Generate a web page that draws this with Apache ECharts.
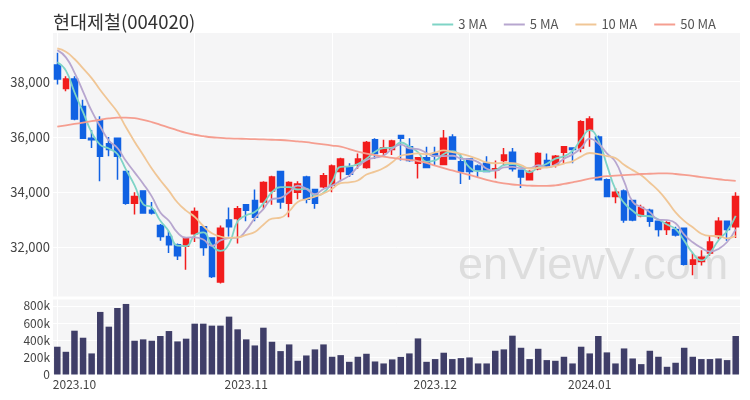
<!DOCTYPE html>
<html><head><meta charset="utf-8">
<script src="https://cdn.jsdelivr.net/npm/echarts@6/dist/echarts.min.js"></script>
<style>html,body{margin:0;padding:0;background:#fff}#c{width:750px;height:400px}</style>
</head><body><div id="c"></div>
<script>
const dates = ['2023-09-26','2023-09-27',
 '2023-10-02','2023-10-04','2023-10-05','2023-10-06','2023-10-10','2023-10-11','2023-10-12','2023-10-13','2023-10-16','2023-10-17','2023-10-18','2023-10-19','2023-10-20','2023-10-23','2023-10-24','2023-10-25','2023-10-26','2023-10-27','2023-10-30','2023-10-31',
 '2023-11-01','2023-11-02','2023-11-03','2023-11-06','2023-11-07','2023-11-08','2023-11-09','2023-11-10','2023-11-13','2023-11-14','2023-11-15','2023-11-16','2023-11-17','2023-11-20','2023-11-21','2023-11-22','2023-11-23','2023-11-24','2023-11-27','2023-11-28','2023-11-29','2023-11-30',
 '2023-12-01','2023-12-04','2023-12-05','2023-12-06','2023-12-07','2023-12-08','2023-12-11','2023-12-12','2023-12-13','2023-12-14','2023-12-15','2023-12-18','2023-12-19','2023-12-20','2023-12-21','2023-12-22','2023-12-26','2023-12-27',
 '2024-01-02','2024-01-03','2024-01-04','2024-01-05','2024-01-08','2024-01-09','2024-01-10','2024-01-11','2024-01-12','2024-01-15','2024-01-16','2024-01-17','2024-01-18','2024-01-19','2024-01-22','2024-01-23','2024-01-24','2024-01-25'];

const opens = [38600,37750,38100,37100,35950,36600,35750,35950,34750,33600,
 34050,33350,32800,32400,32100,32050,32500,32750,32350,30750,
 33000,33050,33550,33700,33650,34050,34750,33600,34000,34550,
 34100,34200,34250,34750,34900,35000,34900,35900,35450,35550,
 36050,35650,35050,35250,35400,35000,36000,35100,35200,34950,
 35050,34800,35150,35450,34800,34450,34850,35150,35000,35450,
 35600,35600,36250,36000,34450,33850,34050,33700,33150,33350,
 32950,32650,32650,32700,31400,31500,31800,32400,32950,32750];
const closes = [38100,38100,36650,35950,35900,35300,35550,35300,33600,33850,
 33250,33250,32400,32100,31700,32350,33300,32000,30950,32700,
 32750,33400,33350,33100,34350,34550,33650,34350,34300,33750,
 33600,34600,34950,35200,34650,35200,35800,35400,35600,35850,
 35950,35150,35250,34900,35300,35950,35200,34750,34750,34800,
 34750,34850,35350,34850,34550,34750,35400,34950,35300,35650,
 35550,36550,36650,34450,33850,34000,33000,33000,33450,32950,
 32650,32900,32450,31400,31550,31650,32200,32950,32650,33850];
const lows = [37900,37650,36600,35950,35600,34400,35300,34450,33550,33200,
 33250,33200,32250,31800,31550,31200,32200,31700,30900,30700,
 32400,32150,32950,32950,33400,33550,33400,33100,33750,33600,
 33400,34150,34000,34450,34550,34850,34850,35200,35350,35350,
 35150,35100,34500,34900,34950,35000,35200,34300,34450,34550,
 34750,34500,34950,34750,34150,34450,34800,34900,34900,35050,
 35050,35450,35650,34450,33850,33600,32900,32950,33100,32750,
 32400,32450,32400,31350,31000,31350,31700,32300,32250,32350];
const highs = [39050,38200,38200,37350,36250,36750,36000,35950,34750,34000,
 34050,33650,32850,32600,32150,32350,33450,32750,32350,32800,
 33450,33500,33550,34100,34400,34600,34750,34400,34400,34600,
 34100,34700,35000,35250,35050,35400,35850,35950,35900,35900,
 36050,35950,35250,35650,35650,36250,36100,35400,35200,35000,
 35300,35150,35600,35600,34800,34800,35450,35400,35350,35650,
 35600,36600,36750,36050,34500,34150,34100,33700,33550,33400,
 32950,32950,32750,32700,31800,31900,32450,33100,32950,34000];
const volumes = [324,265,511,429,246,730,558,776,823,394,
 410,394,449,507,386,418,593,593,570,570,
 675,527,410,339,546,382,273,351,160,222,
 293,351,207,226,148,207,242,152,129,176,
 205,246,421,148,180,254,180,191,199,129,
 129,277,293,453,312,180,300,168,160,207,
 129,324,246,449,258,129,304,187,121,277,
 207,90,137,312,207,180,180,187,168,449].map(v => v * 1000);

// moving-average values before enough in-window closes exist
const ma3Head = [38700, 38400];
const ma5Head = [39140, 38880, 38330, 37640];
const ma10Head = [39200, 39080, 38820, 38480, 38130, 37700, 37300, 36900, 36350];
const ma50 = [36370,36420,36470,36520,36570,36620,36670,36700,36700,36680,
 36620,36540,36440,36340,36240,36150,36080,36030,35990,35970,
 35950,35940,35930,35920,35910,35900,35890,35870,35840,35810,
 35770,35730,35690,35650,35560,35470,35400,35340,35290,35240,
 35200,35170,35130,35060,34960,34870,34790,34710,34630,34540,
 34450,34380,34320,34280,34260,34240,34230,34230,34250,34300,
 34360,34420,34490,34540,34580,34600,34620,34640,34660,34670,
 34680,34680,34660,34630,34590,34550,34510,34470,34440,34410];

const priceTicks = [32000, 34000, 36000, 38000];
const volumeTicks = [0, 200000, 400000, 600000, 800000];
const gridEvery = 16;

function movingAverage(n, head) {
  return closes.map((c, i) => {
    if (i < head.length) return head[i];
    let s = 0;
    for (let k = i - n + 1; k <= i; k++) s += closes[k];
    return Math.round(s / n);
  });
}
const ma3 = movingAverage(3, ma3Head);
const ma5 = movingAverage(5, ma5Head);
const ma10 = movingAverage(10, ma10Head);
const candles = dates.map((d, i) => [opens[i], closes[i], lows[i], highs[i]]);

const UP = '#f21d1d', DOWN = '#1162e3';
const FONT = "'Noto Sans CJK KR','Noto Sans',sans-serif";
const month = s => s.slice(0, 7);

const chart = echarts.init(document.getElementById('c'), null, {renderer: 'canvas'});
const xBase = {
  type: 'category', data: dates, boundaryGap: true,
  axisLine: {show: false}, axisTick: {show: false},
  splitLine: {show: true, alignWithLabel: true, interval: (i) => i % gridEvery === 0,
              lineStyle: {color: '#ffffff', width: 1}}
};
chart.setOption({
  animation: false,
  textStyle: {fontFamily: FONT},
  title: {text: '현대제철(004020)', left: 48, top: 8,
          textStyle: {fontSize: 18.5, fontWeight: 'normal', color: '#333', fontFamily: FONT}},
  legend: {data: ['3 MA', '5 MA', '10 MA', '50 MA'], right: 29, top: 13, icon: 'rect',
           itemWidth: 21, itemHeight: 2, itemGap: 17,
           textStyle: {color: '#555', fontSize: 13, fontFamily: FONT}},
  graphic: [{type: 'text', left: 458, top: 244, z: 1, silent: true,
             style: {text: 'enViewV.com', fill: '#dddddd', font: "45px 'Liberation Sans', Arial, sans-serif"}}],
  grid: [
    {left: 53, right: 10, top: 33, height: 263.5, show: true, backgroundColor: '#f5f5f6', borderWidth: 0},
    {left: 53, right: 10, top: 299.5, height: 75, show: true, backgroundColor: '#f5f5f6', borderWidth: 0}
  ],
  xAxis: [
    Object.assign({}, xBase, {gridIndex: 0, axisLabel: {show: false}}),
    Object.assign({}, xBase, {gridIndex: 1,
      axisLabel: {show: true, color: '#444', fontSize: 12, margin: 4, fontFamily: FONT,
        interval: (i, v) => i > 0 && month(v) !== month(dates[i - 1]),
        formatter: v => v.slice(0, 4) + '.' + v.slice(5, 7)}})
  ],
  yAxis: [
    {type: 'value', gridIndex: 0, min: 30230, max: 39760,
     axisLine: {show: false}, axisTick: {show: false, customValues: priceTicks},
     axisLabel: {customValues: priceTicks, color: '#444', fontSize: 13, margin: 3, fontFamily: FONT,
                 formatter: v => v.toLocaleString('en-US')},
     splitLine: {show: true, lineStyle: {color: '#ffffff', width: 1}}},
    {type: 'value', gridIndex: 1, min: 0, max: 875000,
     axisLine: {show: false}, axisTick: {show: false, customValues: volumeTicks},
     axisLabel: {customValues: volumeTicks, color: '#444', fontSize: 12, margin: 3, fontFamily: FONT,
                 formatter: v => v === 0 ? '0' : (v / 1000) + 'k'},
     splitLine: {show: true, lineStyle: {color: '#ffffff', width: 1}}}
  ],
  series: [
    {name: 'price', type: 'candlestick', xAxisIndex: 0, yAxisIndex: 0, data: candles, barWidth: 6,
     itemStyle: {color: UP, color0: DOWN, borderColor: UP, borderColor0: DOWN, borderWidth: 1.5}},
    {name: '3 MA', type: 'line', data: ma3, smooth: true, symbol: 'none', color: '#7fd4c6',
     lineStyle: {width: 1.8, color: '#7fd4c6'}},
    {name: '5 MA', type: 'line', data: ma5, smooth: true, symbol: 'none', color: '#b7a6cf',
     lineStyle: {width: 1.8, color: '#b7a6cf'}},
    {name: '10 MA', type: 'line', data: ma10, smooth: true, symbol: 'none', color: '#f0c696',
     lineStyle: {width: 1.8, color: '#f0c696'}},
    {name: '50 MA', type: 'line', data: ma50, smooth: true, symbol: 'none', color: '#f59e90',
     lineStyle: {width: 1.8, color: '#f59e90'}},
    {name: 'volume', type: 'bar', xAxisIndex: 1, yAxisIndex: 1, data: volumes, barWidth: 6.5,
     itemStyle: {color: '#3f3e68'}}
  ]
});
</script></body></html>
